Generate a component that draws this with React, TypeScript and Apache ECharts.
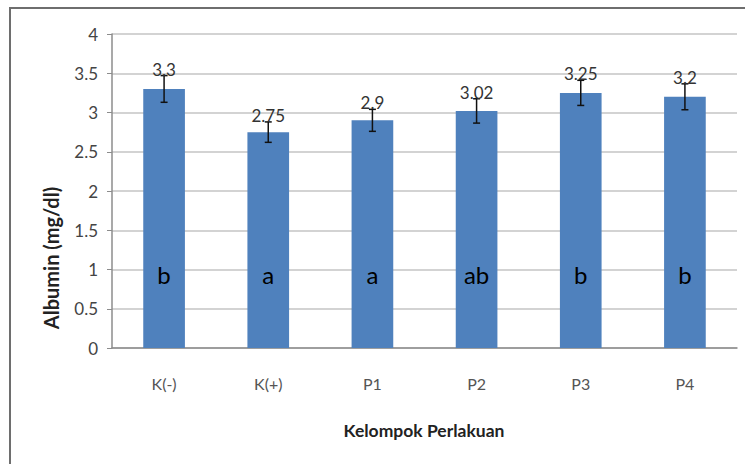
import React, { useEffect, useRef } from "react";
import * as echarts from "echarts";

const categories = ["K(-)", "K(+)", "P1", "P2", "P3", "P4"];
const albumin = [3.3, 2.75, 2.9, 3.02, 3.25, 3.2];
const errors = [0.17, 0.13, 0.14, 0.155, 0.16, 0.165];
const letters = ["b", "a", "a", "ab", "b", "b"];
const letterLevel = 0.94;
const yTicks = [0, 0.5, 1, 1.5, 2, 2.5, 3, 3.5, 4];

const FONT = "Lato, 'Open Sans', sans-serif";

export default function App() {
  const ref = useRef<HTMLDivElement>(null);
  useEffect(() => {
    if (!ref.current) return;
    const chart = echarts.init(ref.current, undefined, { renderer: "svg" });
    chart.setOption({
      animation: false,
      backgroundColor: "#ffffff",
      textStyle: { fontFamily: FONT },
      grid: { left: 112, right: 8, top: 34, bottom: 116, containLabel: false },
      xAxis: {
        type: "category",
        data: categories,
        axisLine: { lineStyle: { color: "#8c8c8c", width: 1.5 } },
        axisTick: { show: false },
        axisLabel: { color: "#555555", fontSize: 16, margin: 27, fontFamily: FONT },
      },
      yAxis: {
        type: "value",
        min: yTicks[0],
        max: yTicks[yTicks.length - 1],
        interval: 0.5,
        axisLine: { show: true, lineStyle: { color: "#8c8c8c", width: 1.5 } },
        axisTick: { show: true, length: 5, lineStyle: { color: "#8c8c8c" } },
        axisLabel: { color: "#444444", fontSize: 17, margin: 14, fontFamily: FONT },
        splitLine: { lineStyle: { color: "#c4c4c4", width: 1.5 } },
      },
      graphic: [
        {
          type: "rect",
          shape: { x: 10, y: 8, width: 900, height: 600 },
          style: { fill: "none", stroke: "#6e6e6e", lineWidth: 2 },
          z: 100,
        },
        {
          type: "text",
          x: 51,
          y: 258,
          rotation: Math.PI / 2,
          style: {
            text: "Albumin (mg/dl)",
            fill: "#222222",
            font: `bold 20px ${FONT}`,
            align: "center",
            verticalAlign: "middle",
          },
        },
        {
          type: "text",
          x: 424,
          y: 430,
          style: {
            text: "Kelompok Perlakuan",
            fill: "#222222",
            font: `bold 17.5px ${FONT}`,
            align: "center",
            verticalAlign: "middle",
          },
        },
      ],
      series: [
        {
          type: "bar",
          data: albumin,
          barWidth: "40%",
          itemStyle: { color: "#4f81bd" },
          z: 2,
        },
        {
          type: "custom",
          data: albumin.map((v, i) => [i, v, errors[i]]),
          encode: { x: 0, y: 1 },
          z: 5,
          renderItem: (params: any, api: any) => {
            const i = api.value(0);
            const v = api.value(1);
            const e = api.value(2);
            const top = api.coord([i, v + e]);
            const bot = api.coord([i, v - e]);
            const lt = api.coord([i, letterLevel]);
            const cap = 3.5;
            const ls = { stroke: "#111111", lineWidth: 1.5 };
            return {
              type: "group",
              children: [
                { type: "line", shape: { x1: top[0], y1: top[1], x2: bot[0], y2: bot[1] }, style: ls },
                { type: "line", shape: { x1: top[0] - cap, y1: top[1], x2: top[0] + cap, y2: top[1] }, style: ls },
                { type: "line", shape: { x1: bot[0] - cap, y1: bot[1], x2: bot[0] + cap, y2: bot[1] }, style: ls },
                {
                  type: "text",
                  x: top[0],
                  y: top[1] + 2,
                  style: {
                    text: String(albumin[params.dataIndex]),
                    fill: "#333333",
                    font: `17px ${FONT}`,
                    align: "center",
                    verticalAlign: "bottom",
                  },
                },
                {
                  type: "text",
                  x: lt[0],
                  y: lt[1],
                  style: {
                    text: letters[params.dataIndex],
                    fill: "#000000",
                    font: `24px ${FONT}`,
                    align: "center",
                    verticalAlign: "middle",
                  },
                },
              ],
            };
          },
        },
      ],
    });
    return () => chart.dispose();
  }, []);
  return (
    <div
      ref={ref}
      style={{ position: "absolute", left: 0, top: 0, width: 745, height: 464 }}
    />
  );
}
